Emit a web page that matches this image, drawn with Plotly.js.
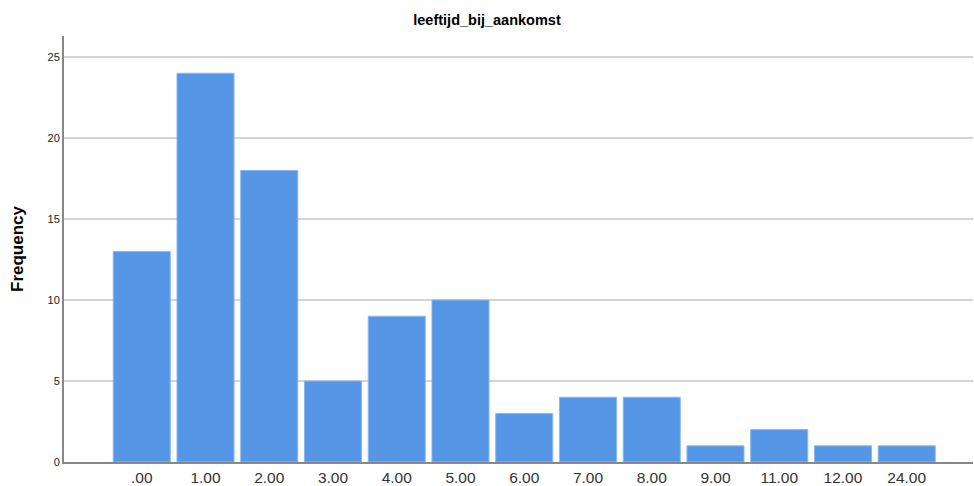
<!DOCTYPE html>
<html><head><meta charset="utf-8">
<script src="https://cdn.plot.ly/plotly-3.0.1.min.js"></script>
<style>html,body{margin:0;padding:0;background:#fff}#c{width:974px;height:486px}</style>
</head><body><div id="c"></div>
<script>
const categories = [".00","1.00","2.00","3.00","4.00","5.00","6.00","7.00","8.00","9.00","11.00","12.00","24.00"];
const frequencies = [13,24,18,5,9,10,3,4,4,1,2,1,1];
const chartTitle = "leeftijd_bij_aankomst";
const yTitle = "Frequency";

Plotly.newPlot("c", [{
  type: "bar",
  x: categories,
  y: frequencies,
  marker: {color: "#5596e6", line: {color: "#8ab8ef", width: 1}},
  hoverinfo: "x+y"
}], {
  width: 974, height: 486,
  margin: {l: 64, r: 1, t: 36, b: 24},
  paper_bgcolor: "#fff", plot_bgcolor: "#fff",
  bargap: 0.105,
  showlegend: false,
  title: {text: "<b>" + chartTitle + "</b>", x: 0.5, xanchor: "center", y: 0.959, yanchor: "middle",
          font: {family: "Liberation Sans, Arial, sans-serif", size: 14.5, color: "#000"}},
  xaxis: {
    type: "category", range: [-1.22, 13.04],
    showline: true, linecolor: "#888", linewidth: 2,
    showgrid: false, ticks: "", zeroline: false,
    tickfont: {family: "Liberation Sans, Arial, sans-serif", size: 15.5, color: "#333"}
  },
  yaxis: {
    range: [0, 26.3], tickvals: [0,5,10,15,20,25],
    showline: true, linecolor: "#888", linewidth: 2,
    showgrid: true, gridcolor: "#d4d4d4", gridwidth: 1.5, zeroline: false, ticks: "",
    tickfont: {family: "Liberation Sans, Arial, sans-serif", size: 11, color: "#222"},
    title: {text: "<b>" + yTitle + "</b>", standoff: 20,
            font: {family: "Liberation Sans, Arial, sans-serif", size: 17, color: "#000"}}
  }
}, {displayModeBar: false, staticPlot: true});
</script>
</body></html>
